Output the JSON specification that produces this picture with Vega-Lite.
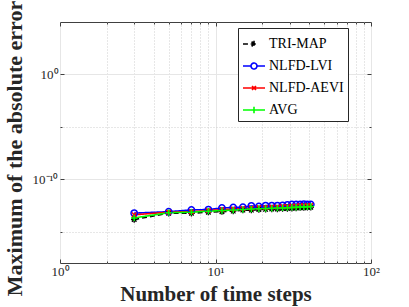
{
  "$schema": "https://vega.github.io/schema/vega-lite/v6.json",
  "width": 311,
  "height": 241,
  "autosize": "none",
  "padding": {"left": 60, "top": 22, "right": 38, "bottom": 44},
  "background": "white",
  "config": {
    "view": {"stroke": "#404040", "strokeWidth": 1},
    "axis": {
      "labelFont": "Liberation Serif",
      "labelFontSize": 13,
      "labelColor": "#262626",
      "titleFont": "Liberation Serif",
      "titleFontSize": 21,
      "titleFontWeight": "bold",
      "titleColor": "#262626",
      "domainColor": "#404040",
      "tickColor": "#404040",
      "gridWidth": 1
    },
    "legend": {"labelFont": "Liberation Serif", "labelFontSize": 14}
  },
  "data": {
    "values": [
      {"n": 3, "TRI-MAP": 1.41e-14, "NLFD-LVI": 5.75e-14, "NLFD-AEVI": 3.98e-14, "AVG": 2.0e-14},
      {"n": 5, "TRI-MAP": 5.62e-14, "NLFD-LVI": 7.94e-14, "NLFD-AEVI": 7.08e-14, "AVG": 6.31e-14},
      {"n": 7, "TRI-MAP": 5.62e-14, "NLFD-LVI": 1.17e-13, "NLFD-AEVI": 7.94e-14, "AVG": 7.08e-14},
      {"n": 9, "TRI-MAP": 7.08e-14, "NLFD-LVI": 1.26e-13, "NLFD-AEVI": 1.0e-13, "AVG": 8.91e-14},
      {"n": 11, "TRI-MAP": 7.94e-14, "NLFD-LVI": 1.78e-13, "NLFD-AEVI": 1.26e-13, "AVG": 1.0e-13},
      {"n": 13, "TRI-MAP": 8.91e-14, "NLFD-LVI": 2.0e-13, "NLFD-AEVI": 1.41e-13, "AVG": 1.12e-13},
      {"n": 15, "TRI-MAP": 1.12e-13, "NLFD-LVI": 2.1e-13, "NLFD-AEVI": 1.58e-13, "AVG": 1.26e-13},
      {"n": 17, "TRI-MAP": 1.12e-13, "NLFD-LVI": 2.82e-13, "NLFD-AEVI": 1.78e-13, "AVG": 1.41e-13},
      {"n": 19, "TRI-MAP": 1.26e-13, "NLFD-LVI": 2.51e-13, "NLFD-AEVI": 2.0e-13, "AVG": 1.51e-13},
      {"n": 21, "TRI-MAP": 1.32e-13, "NLFD-LVI": 3.0e-13, "NLFD-AEVI": 2.0e-13, "AVG": 1.58e-13},
      {"n": 23, "TRI-MAP": 1.41e-13, "NLFD-LVI": 3.0e-13, "NLFD-AEVI": 2.24e-13, "AVG": 1.66e-13},
      {"n": 25, "TRI-MAP": 1.41e-13, "NLFD-LVI": 3.0e-13, "NLFD-AEVI": 2.24e-13, "AVG": 1.74e-13},
      {"n": 27, "TRI-MAP": 1.58e-13, "NLFD-LVI": 3.16e-13, "NLFD-AEVI": 2.51e-13, "AVG": 1.82e-13},
      {"n": 29, "TRI-MAP": 1.58e-13, "NLFD-LVI": 3.55e-13, "NLFD-AEVI": 2.51e-13, "AVG": 1.91e-13},
      {"n": 31, "TRI-MAP": 1.66e-13, "NLFD-LVI": 3.8e-13, "NLFD-AEVI": 2.82e-13, "AVG": 2.0e-13},
      {"n": 33, "TRI-MAP": 1.78e-13, "NLFD-LVI": 3.8e-13, "NLFD-AEVI": 2.82e-13, "AVG": 2.09e-13},
      {"n": 35, "TRI-MAP": 1.91e-13, "NLFD-LVI": 3.98e-13, "NLFD-AEVI": 3.16e-13, "AVG": 2.19e-13},
      {"n": 37, "TRI-MAP": 1.91e-13, "NLFD-LVI": 4.17e-13, "NLFD-AEVI": 3.16e-13, "AVG": 2.24e-13},
      {"n": 39, "TRI-MAP": 2.0e-13, "NLFD-LVI": 3.98e-13, "NLFD-AEVI": 3.16e-13, "AVG": 2.34e-13},
      {"n": 41, "TRI-MAP": 2.09e-13, "NLFD-LVI": 3.8e-13, "NLFD-AEVI": 3.16e-13, "AVG": 2.51e-13}
    ]
  },
  "transform": [
    {"fold": ["TRI-MAP", "NLFD-LVI", "NLFD-AEVI", "AVG"], "as": ["method", "err"]}
  ],
  "layer": [
    {
      "mark": {"type": "line", "strokeWidth": 1.6, "clip": true},
      "encoding": {
        "x": {
          "field": "n", "type": "quantitative",
          "scale": {"type": "log", "domain": [1, 100], "nice": false},
          "axis": {
            "title": "Number of time steps",
            "values": [1, 2, 3, 4, 5, 6, 7, 8, 9, 10, 20, 30, 40, 50, 60, 70, 80, 90, 100],
            "labelExpr": "datum.value == 1 ? '10⁰' : datum.value == 10 ? '10¹' : datum.value == 100 ? '10²' : ''",
            "grid": true,
            "gridDash": {"condition": {"test": "datum.value == 1 || datum.value == 10 || datum.value == 100", "value": []}, "value": [1, 2]},
            "gridColor": {"condition": {"test": "datum.value == 1 || datum.value == 10 || datum.value == 100", "value": "#e6e6e6"}, "value": "#cfcfcf"},
            "tickSize": {"condition": {"test": "datum.value == 1 || datum.value == 10 || datum.value == 100", "value": -4}, "value": -2},
            "labelPadding": 6,
            "labelFlush": false,
            "labelOverlap": false,
            "titlePadding": 3,
            "domain": false
          }
        },
        "y": {
          "field": "err", "type": "quantitative",
          "scale": {"type": "log", "domain": [1e-18, 1e5], "nice": false},
          "axis": {
            "title": "Maximum of the absolute error",
            "titleFontSize": 22,
            "titleY": 126,
            "values": [1e-15, 1e-10, 1e-5, 1],
            "labelExpr": "datum.value == 1 ? '10⁰' : datum.value == 1e-10 ? '10⁻¹⁰' : ''",
            "grid": true,
            "gridDash": {"condition": {"test": "datum.value == 1 || datum.value == 1e-10", "value": []}, "value": [1, 2]},
            "gridColor": {"condition": {"test": "datum.value == 1 || datum.value == 1e-10", "value": "#e6e6e6"}, "value": "#cfcfcf"},
            "tickSize": {"condition": {"test": "datum.value == 1 || datum.value == 1e-10", "value": -4}, "value": -2},
            "labelPadding": 6,
            "labelFlush": false,
            "labelOverlap": false,
            "titlePadding": 6,
            "domain": false
          }
        },
        "color": {
          "field": "method", "type": "nominal",
          "scale": {"domain": ["TRI-MAP", "NLFD-LVI", "NLFD-AEVI", "AVG"], "range": ["#000000", "#0000ff", "#ff0000", "#00ff00"]},
          "legend": {
            "title": null,
            "orient": "none",
            "legendX": 178,
            "legendY": 6,
            "strokeColor": "#262626",
            "fillColor": "white",
            "padding": 4,
            "rowPadding": 3,
            "labelFont": "Liberation Serif",
            "labelFontSize": 14,
            "labelColor": "#000000",
            "labelOffset": 3,
            "symbolSize": 484,
            "encode": {
              "symbols": {
                "update": {
                  "shape": {"signal": "datum.value === 'TRI-MAP' ? 'M-1,0L-0.55,0M-0.3,0L0.3,0M0,-0.3L0,0.3M-0.22,-0.22L0.22,0.22M-0.22,0.22L0.22,-0.22' : datum.value === 'NLFD-LVI' ? 'M-1,0L-0.27,0M0.27,0L1,0M0.27,0A0.27,0.27 0 1,1 -0.27,0A0.27,0.27 0 1,1 0.27,0' : datum.value === 'NLFD-AEVI' ? 'M-1,0L1,0M-0.18,-0.18L0.18,0.18M-0.18,0.18L0.18,-0.18' : 'M-1,0L1,0M0,-0.3L0,0.3'"},
                  "stroke": {"scale": "color", "field": "value"},
                  "fill": {"value": "transparent"},
                  "strokeDash": {"value": []},
                  "strokeWidth": {"value": 1.6},
                  "size": {"value": 484},
                  "opacity": {"value": 1}
                }
              },
              "labels": {
                "update": {
                  "font": {"value": "Liberation Serif"},
                  "fontSize": {"value": 14}
                }
              }
            }
          }
        },
        "strokeDash": {
          "field": "method", "type": "nominal",
          "scale": {"domain": ["TRI-MAP", "NLFD-LVI", "NLFD-AEVI", "AVG"], "range": [[5, 3], [1, 0], [1, 0], [1, 0]]},
          "legend": null
        }
      }
    },
    {
      "transform": [{"filter": "datum.method === 'TRI-MAP'"}],
      "mark": {"type": "point", "filled": false, "strokeWidth": 1.3, "size": 40, "opacity": 1, "clip": true, "color": "#000000", "shape": "M-1,0L1,0M0,-1L0,1M-0.72,-0.72L0.72,0.72M-0.72,0.72L0.72,-0.72"},
      "encoding": {
        "x": {
          "field": "n", "type": "quantitative",
          "scale": {"type": "log", "domain": [1, 100], "nice": false},
          "axis": {
            "orient": "top", "title": null, "labels": false, "grid": false, "domain": false,
            "values": [1, 2, 3, 4, 5, 6, 7, 8, 9, 10, 20, 30, 40, 50, 60, 70, 80, 90, 100],
            "tickSize": {"condition": {"test": "datum.value == 1 || datum.value == 10 || datum.value == 100", "value": -4}, "value": -2}
          }
        },
        "y": {
          "field": "err", "type": "quantitative",
          "scale": {"type": "log", "domain": [1e-18, 1e5], "nice": false},
          "axis": {
            "orient": "right", "title": null, "labels": false, "grid": false, "domain": false,
            "values": [1e-15, 1e-10, 1e-5, 1],
            "tickSize": {"condition": {"test": "datum.value == 1 || datum.value == 1e-10", "value": -4}, "value": -2}
          }
        }
      }
    },
    {
      "transform": [{"filter": "datum.method === 'NLFD-LVI'"}],
      "mark": {"type": "point", "filled": false, "strokeWidth": 1.5, "size": 40, "opacity": 1, "clip": true, "color": "#0000ff", "shape": "circle"},
      "encoding": {
        "x": {"field": "n", "type": "quantitative", "axis": null},
        "y": {"field": "err", "type": "quantitative", "axis": null}
      }
    },
    {
      "transform": [{"filter": "datum.method === 'NLFD-AEVI'"}],
      "mark": {"type": "point", "filled": false, "strokeWidth": 1.5, "size": 40, "opacity": 1, "clip": true, "color": "#ff0000", "shape": "M-0.7,-0.7L0.7,0.7M-0.7,0.7L0.7,-0.7"},
      "encoding": {
        "x": {"field": "n", "type": "quantitative", "axis": null},
        "y": {"field": "err", "type": "quantitative", "axis": null}
      }
    },
    {
      "transform": [{"filter": "datum.method === 'AVG'"}],
      "mark": {"type": "point", "filled": false, "strokeWidth": 1.5, "size": 40, "opacity": 1, "clip": true, "color": "#00ff00", "shape": "M-1,0L1,0M0,-1L0,1"},
      "encoding": {
        "x": {"field": "n", "type": "quantitative", "axis": null},
        "y": {"field": "err", "type": "quantitative", "axis": null}
      }
    }
  ],
  "resolve": {"axis": {"x": "independent", "y": "independent"}}
}
